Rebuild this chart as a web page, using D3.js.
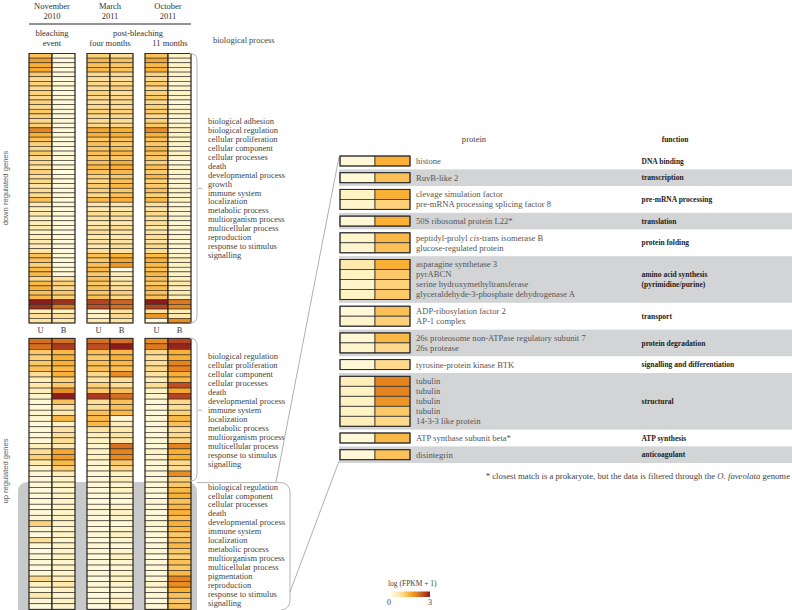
<!DOCTYPE html>
<html>
<head>
<meta charset="utf-8">
<script src="https://cdn.jsdelivr.net/npm/d3@7"></script>
<style>
body { margin: 0; background: #fff; }
svg { display: block; }
text { font-family: "Liberation Serif", "DejaVu Serif", serif; }
</style>
</head>
<body>
<script>
// ---------------- DATA ----------------
const timepoints = ["Nov", "Mar", "Oct"];
const treatments = ["U", "B"];
const timeLabels = [["November", "2010"], ["March", "2011"], ["October", "2011"]];

// down-regulated genes (58 rows), log(FPKM+1)
const downNovU = [1.3,1.7,1.5,1.6,1.2,1.0,1.1,1.0,1.1,1.0, 1.1,1.0,1.2,1.1,1.0,1.1,2.0,1.5,1.3,1.1, 1.0,1.2,0.9,1.0,0.8,1.1,0.9,1.0,0.8,0.9, 1.0,1.3,0.7,0.6,0.7,0.5,0.6,0.7,0.5,0.6, 0.7,0.6,0.8,1.3,1.3,1.1,1.4,1.4,1.0,1.4, 1.5,1.3,1.4,3.0,2.8,0.6,0.9,0.8];
const downNovB = [0.3,0.2,0.3,0.2,0.3,0.2,0.3,0.3,0.2,0.3, 0.2,0.3,0.2,0.3,0.3,0.2,0.3,0.3,0.2,0.3, 0.2,0.3,0.3,0.2,0.3,0.2,0.3,0.2,0.3,0.2, 0.3,0.2,0.3,0.2,0.3,0.2,0.3,0.2,0.2,0.3, 0.2,0.3,0.2,0.3,0.3,0.2,0.3,0.3,0.8,1.1, 1.0,1.2,1.1,2.8,2.1,0.5,0.9,0.7];
const downMarU = [1.1,1.4,1.3,1.4,1.0,0.9,1.0,0.9,1.1,1.0, 0.9,1.0,1.1,1.0,0.9,1.0,1.6,1.5,1.2,1.3, 1.2,1.3,1.2,1.3,1.4,1.3,1.1,1.0,1.2,1.1, 1.0,1.4,0.8,0.7,0.9,0.8,0.7,0.8,0.9,0.7, 0.8,0.7,0.9,1.3,1.2,1.3,1.4,1.2,1.3,1.2, 1.3,1.2,1.3,2.6,2.5,0.3,0.5,0.7];
const downMarB = [0.9,1.3,1.2,1.3,1.0,0.9,1.0,1.1,0.9,1.0, 1.0,0.9,1.1,1.0,0.9,1.0,1.5,1.5,1.3,1.2, 1.3,1.4,1.2,1.5,1.5,1.4,1.2,1.3,1.4,1.2, 1.3,1.5,0.8,0.7,0.9,0.8,0.7,0.9,0.8,0.7, 0.8,0.9,0.8,1.5,1.6,1.8,0.1,0.6,0.7,0.8, 0.9,1.1,1.0,2.3,2.2,0.8,1.0,0.8];
const downOctU = [1.3,1.6,1.4,1.5,1.1,1.0,1.2,1.0,1.1,1.2, 1.0,1.1,1.2,1.0,1.1,1.2,1.9,1.5,1.3,1.2, 1.4,1.3,1.2,1.1,1.3,1.2,1.4,1.1,1.2,1.3, 1.1,1.4,0.9,0.8,1.0,0.8,0.9,0.7,0.8,0.9, 0.8,1.0,0.9,1.4,1.5,1.4,1.3,1.4,1.3,1.2, 1.4,1.3,1.3,3.0,2.6,0.8,1.8,0.3];
const downOctB = [0.5,0.4,0.5,0.4,0.5,0.4,0.3,0.4,0.5,0.4, 0.3,0.4,0.5,0.4,0.3,0.4,0.6,0.5,0.4,0.5, 0.4,0.5,0.4,0.3,0.4,0.5,0.4,0.3,0.4,0.5, 0.4,0.5,0.3,0.4,0.3,0.4,0.3,0.4,0.3,0.4, 0.3,0.4,0.3,0.5,0.6,0.5,0.4,0.5,0.6,0.7, 0.6,0.7,0.6,2.1,2.0,0.6,0.7,1.9];

// up-regulated genes (49 rows; rows 26.. are the highlighted group)
const upNovU = [2.2,2.2,1.2,1.1,1.2,1.3,0.9,0.6,0.7,0.6,0.4,0.3,0.3,0.4,0.4,0.2,0.3,0.3,0.3,0.6,0.9,1.1,0.7,0.4,0.3,0.3, 0.3,0.2,0.3,0.3,0.2,0.3,0.3,1.1,0.3,0.2,0.9,0.3,0.2,0.3,0.3,0.2,0.3,1.0,0.5,0.3,0.7,0.3,0.2];
const upNovB = [2.2,2.7,1.4,1.5,1.5,1.4,1.5,1.1,1.2,1.9,3.0,1.3,0.8,0.7,1.4,0.5,0.8,0.9,0.9,0.7,1.6,1.7,1.4,1.1,0.6,0.5, 0.5,0.4,0.5,0.4,0.5,0.4,0.5,0.5,0.4,0.5,0.4,0.5,0.4,0.5,0.4,0.5,0.4,0.6,0.7,0.5,0.4,0.5,0.4];
const upMarU = [2.2,2.5,1.3,1.2,1.3,1.3,1.0,0.8,1.1,1.2,2.7,0.9,0.9,1.3,1.4,1.4,0.8,0.6,0.5,0.4,0.5,0.5,0.4,0.3,0.3,0.3, 0.3,0.2,0.3,0.2,0.3,0.3,0.2,0.3,0.2,0.3,0.2,0.3,0.3,0.2,0.3,0.2,0.3,0.2,0.3,0.3,0.2,0.3,0.2];
const upMarB = [2.2,3.0,1.4,1.5,1.4,1.3,1.9,0.9,0.9,1.3,2.2,1.3,1.3,1.4,0.3,0.6,0.7,0.8,0.7,2.2,2.0,1.9,1.2,1.0,0.5,0.6, 0.4,0.5,0.4,0.3,0.4,0.5,0.4,0.3,0.4,0.5,0.4,0.3,0.4,0.5,0.4,0.3,0.4,0.5,0.4,0.3,0.4,0.5,0.4];
const upOctU = [1.9,2.1,1.0,0.9,0.9,1.0,0.8,0.6,0.9,0.5,0.4,0.3,0.3,0.3,0.3,0.3,0.3,0.3,0.3,0.3,0.5,0.4,0.3,0.3,0.3,0.3, 0.3,0.3,0.2,0.3,0.3,0.2,0.3,0.4,0.3,0.3,0.2,0.3,0.3,0.2,0.3,0.3,0.2,0.3,0.4,0.3,0.3,0.2,0.3];
const upOctB = [2.6,2.9,1.5,1.5,2.0,2.0,1.5,1.4,2.5,1.6,2.6,1.0,0.9,1.1,1.4,1.3,0.9,1.0,1.0,2.0,1.5,1.5,1.0,0.9,1.9,1.1, 1.2,1.4,1.5,1.3,1.4,1.5,1.3,1.5,1.4,1.2,1.3,1.4,1.2,1.1,1.3,1.2,1.4,2.0,1.9,1.5,1.3,1.2,1.3];
const upGroupSplit = 26;

const downProcesses = ["biological adhesion","biological regulation","cellular proliferation","cellular component","cellular processes","death","developmental process","growth","immune system","localization","metabolic process","multiorganism process","multicellular process","reproduction","response to stimulus","signalling"];
const upProcesses1 = ["biological regulation","cellular proliferation","cellular component","cellular processes","death","developmental process","immune system","localization","metabolic process","multiorganism process","multicellular process","response to stimulus","signalling"];
const upProcesses2 = ["biological regulation","cellular component","cellular processes","death","developmental process","immune system","localization","metabolic process","multiorganism process","multicellular process","pigmentation","reproduction","response to stimulus","signalling"];

// protein table
const proteinNames = ["histone","RuvB-like 2","clevage simulation factor","pre-mRNA processing splicing factor 8","50S ribosomal protein L22*","peptidyl-prolyl |cis|-trans isomerase B","glucose-regulated protein","asparagine synthetase 3","pyrABCN","serine hydroxymethyltransferase","glyceraldehyde-3-phosphate dehydrogenase A","ADP-ribosylation factor 2","AP-1 complex","26s proteosome non-ATPase regulatory subunit 7","26s protease","tyrosine-protein kinase BTK","tubulin","tubulin","tubulin","tubulin","14-3-3 like protein","ATP synthase subunit beta*","disintegrin"];
const proteinGroup = [0,1,2,2,3,4,4,5,5,5,5,6,6,7,7,8,9,9,9,9,9,10,11];
const proteinU = [0.3,0.3,0.5,0.4,0.3,0.4,0.4,0.7,0.5,0.4,0.5,0.3,0.4,0.3,0.4,0.3,0.6,0.5,0.5,0.5,0.6,0.3,0.3];
const proteinB = [1.5,1.3,1.5,1.1,1.5,1.4,1.3,1.5,1.2,1.1,1.2,1.3,1.1,1.4,1.0,1.0,2.0,2.0,1.8,1.2,1.0,1.4,1.3];
const functionNames = [["DNA binding"],["transcription"],["pre-mRNA processing"],["translation"],["protein folding"],["amino acid synthesis","(pyrimidine/purine)"],["transport"],["protein degradation"],["signalling and differentiation"],["structural"],["ATP synthesis"],["anticoagulant"]];

const colorStops = [0, 0.5, 1, 1.5, 2, 2.5, 3];
const colorRange = ["#fffef0", "#fff3c4", "#fed98b", "#f9b035", "#e5841f", "#bf4f22", "#8c1b1b"];

// ---------------- CHART ----------------
const svg = d3.select("body").append("svg").attr("width", 792).attr("height", 610);
const color = d3.scaleLinear().domain(colorStops).range(colorRange).interpolate(d3.interpolateRgb).clamp(true);

const groupX = d3.scaleBand().domain(timepoints).range([29, 191]).paddingInner(0.207);
const subX = d3.scaleBand().domain(treatments).range([0, groupX.bandwidth()]);
const downY = d3.scaleBand().domain(d3.range(downNovU.length)).range([53.5, 323]);
const upY = d3.scaleBand().domain(d3.range(upNovU.length)).range([338.3, 609.3]);

const downCols = {Nov: {U: downNovU, B: downNovB}, Mar: {U: downMarU, B: downMarB}, Oct: {U: downOctU, B: downOctB}};
const upCols = {Nov: {U: upNovU, B: upNovB}, Mar: {U: upMarU, B: upMarB}, Oct: {U: upOctU, B: upOctB}};

// highlighted gray region behind the lower up-regulated group
const grayTop = upY(upGroupSplit);
svg.append("rect").attr("x", 18).attr("y", grayTop).attr("width", 179).attr("height", 150)
  .attr("rx", 9).attr("fill", "#c8c9cb");

function drawSection(cols, yScale) {
  timepoints.forEach(t => {
    treatments.forEach(s => {
      const vals = cols[t][s];
      const x0 = groupX(t) + subX(s);
      const g = svg.append("g");
      g.selectAll("rect").data(vals).join("rect")
        .attr("x", x0).attr("y", (d, i) => yScale(i))
        .attr("width", subX.bandwidth()).attr("height", yScale.bandwidth())
        .attr("fill", d => color(d)).attr("stroke", "#2e2a22").attr("stroke-width", 0.6);
      g.append("rect").attr("x", x0).attr("y", yScale.range()[0])
        .attr("width", subX.bandwidth()).attr("height", yScale.range()[1] - yScale.range()[0])
        .attr("fill", "none").attr("stroke", "#2a2620").attr("stroke-width", 0.9);
    });
  });
}
drawSection(downCols, downY);
drawSection(upCols, upY);

// headers
const hdr = svg.append("g").attr("fill", "#333").attr("font-size", 8.5).attr("text-anchor", "middle");
timepoints.forEach((t, i) => {
  const cx = groupX(t) + groupX.bandwidth() / 2;
  hdr.append("text").attr("x", cx).attr("y", 8.5).text(timeLabels[i][0]);
  hdr.append("text").attr("x", cx).attr("y", 18.5).text(timeLabels[i][1]);
});
svg.append("line").attr("x1", 29).attr("x2", 191).attr("y1", 24).attr("y2", 24)
  .attr("stroke", "#6e6e6e").attr("stroke-width", 1.4);
const nx = groupX("Nov") + groupX.bandwidth() / 2;
const mx = groupX("Mar") + groupX.bandwidth() / 2;
const ox = groupX("Oct") + groupX.bandwidth() / 2;
hdr.append("text").attr("x", nx).attr("y", 36).text("bleaching");
hdr.append("text").attr("x", nx).attr("y", 46).text("event");
hdr.append("text").attr("x", (mx + ox) / 2 - 1).attr("y", 36).text("post-bleaching");
hdr.append("text").attr("x", mx).attr("y", 46).text("four months");
hdr.append("text").attr("x", ox + 2).attr("y", 46).text("11 months");
svg.append("text").attr("x", 213).attr("y", 43).attr("font-size", 8.5).attr("fill", "#444").text("biological process");

// U / B labels
timepoints.forEach(t => treatments.forEach(s => {
  svg.append("text").attr("x", groupX(t) + subX(s) + subX.bandwidth() / 2).attr("y", 333)
    .attr("text-anchor", "middle").attr("font-size", 8.5).attr("fill", "#333").text(s);
}));

// vertical side labels
svg.append("text").attr("transform", "translate(8,188) rotate(-90)").attr("text-anchor", "middle")
  .style("font-family", "'Liberation Sans', Arial, sans-serif").attr("font-size", 7.6).attr("fill", "#666").text("down regulated genes");
svg.append("text").attr("transform", "translate(8,471) rotate(-90)").attr("text-anchor", "middle")
  .style("font-family", "'Liberation Sans', Arial, sans-serif").attr("font-size", 7.6).attr("fill", "#666").text("up regulated genes");

// brackets
const brk = "#b3b3b3";
function bracket(y0, y1, tickY) {
  svg.append("path").attr("d", `M190,${y0} Q197,${y0} 197,${y0 + 7} V${y1 - 7} Q197,${y1} 190,${y1}`)
    .attr("fill", "none").attr("stroke", brk).attr("stroke-width", 1);
  svg.append("line").attr("x1", 198).attr("x2", 202).attr("y1", tickY).attr("y2", tickY)
    .attr("stroke", brk).attr("stroke-width", 1);
}
const downMid = (downY.range()[0] + downY.range()[1]) / 2;
const up1Mid = (upY.range()[0] + grayTop) / 2;
bracket(downY.range()[0], downY.range()[1], downMid);
bracket(upY.range()[0], grayTop - 1, up1Mid);

// rounded label box for highlighted group
svg.append("path").attr("d", `M197,${grayTop + 0.5} H281 A9,9 0 0 1 290,${grayTop + 9.5} V601 A9,9 0 0 1 281,610`)
  .attr("fill", "none").attr("stroke", brk).attr("stroke-width", 1);

// process labels
function processLabels(list, centerY) {
  const sp = 8.95;
  const y0 = centerY - (list.length - 1) / 2 * sp;
  svg.append("g").attr("font-size", 8.45).attr("fill", "#444")
    .selectAll("text").data(list).join("text")
    .attr("x", 208).attr("y", (d, i) => y0 + i * sp).attr("dy", "0.33em").text(d => d);
}
processLabels(downProcesses, downMid);
processLabels(upProcesses1, up1Mid);
processLabels(upProcesses2, grayTop + 4.7 + (upProcesses2.length - 1) / 2 * 8.95);

// protein table layout
const rowH = 10, gapH = 6.7, tableTop = 156;
const rowY = proteinNames.map((d, i) => tableTop + i * rowH + proteinGroup[i] * gapH);
const protX = d3.scaleBand().domain(treatments).range([340, 410]);
const groups = d3.range(functionNames.length).map(g => {
  const idx = proteinGroup.map((v, i) => v === g ? i : -1).filter(i => i >= 0);
  return {g, top: rowY[idx[0]], bottom: rowY[idx[idx.length - 1]] + rowH};
});

// gray bands
svg.append("g").selectAll("rect").data(groups.filter(d => d.g % 2 === 1)).join("rect")
  .attr("x", 339).attr("y", d => d.top - 3.3).attr("width", 453).attr("height", d => d.bottom - d.top + 6.6)
  .attr("fill", "#d3d4d6");

// connector lines
svg.append("line").attr("x1", 276).attr("y1", grayTop).attr("x2", 339).attr("y2", groups[0].top + 1)
  .attr("stroke", "#9a9a9a").attr("stroke-width", 0.8);
svg.append("line").attr("x1", 290).attr("y1", 592).attr("x2", 339).attr("y2", groups[groups.length - 1].bottom + 1.5)
  .attr("stroke", "#9a9a9a").attr("stroke-width", 0.8);

// protein cells
treatments.forEach(s => {
  const vals = s === "U" ? proteinU : proteinB;
  svg.append("g").selectAll("rect").data(vals).join("rect")
    .attr("x", protX(s)).attr("y", (d, i) => rowY[i])
    .attr("width", protX.bandwidth()).attr("height", rowH)
    .attr("fill", d => color(d)).attr("stroke", "#333").attr("stroke-width", 0.8);
});
groups.forEach(d => {
  svg.append("rect").attr("x", 340).attr("y", d.top).attr("width", 70).attr("height", d.bottom - d.top)
    .attr("fill", "none").attr("stroke", "#2a2a2a").attr("stroke-width", 1);
});

// protein names
const pl = svg.append("g").attr("font-size", 8.6).attr("fill", "#555");
proteinNames.forEach((name, i) => {
  const t = pl.append("text").attr("x", 416).attr("y", rowY[i] + rowH / 2).attr("dy", "0.34em");
  name.split("|").forEach((part, k) => {
    t.append("tspan").attr("font-style", k % 2 === 1 ? "italic" : "normal").text(part);
  });
});

// function labels
const fl = svg.append("g").attr("font-size", 7.5).attr("font-weight", "bold").attr("fill", "#222");
groups.forEach(d => {
  const lines = functionNames[d.g];
  const cy = (d.top + d.bottom) / 2;
  lines.forEach((ln, k) => {
    fl.append("text").attr("x", 641.5).attr("y", cy + (k - (lines.length - 1) / 2) * 9.5).attr("dy", "0.35em").text(ln);
  });
});

// table headers
svg.append("text").attr("x", 474).attr("y", 142).attr("text-anchor", "middle").attr("font-size", 8.6).attr("fill", "#444").text("protein");
svg.append("text").attr("x", 675).attr("y", 142).attr("text-anchor", "middle").attr("font-size", 7.5).attr("font-weight", "bold").attr("fill", "#222").text("function");

// footnote
const fn = svg.append("text").attr("x", 790).attr("y", 479).attr("text-anchor", "end").attr("font-size", 8.7).attr("fill", "#444");
fn.append("tspan").text("* closest match is a prokaryote, but the data is filtered through the ");
fn.append("tspan").attr("font-style", "italic").text("O. faveolata");
fn.append("tspan").text(" genome");

// legend
const defs = svg.append("defs");
const grad = defs.append("linearGradient").attr("id", "lg");
colorStops.forEach(v => grad.append("stop").attr("offset", (v / 3 * 100) + "%").attr("stop-color", color(v)));
const legX = d3.scaleLinear().domain([0, 3]).range([389, 430]);
svg.append("text").attr("x", 388).attr("y", 586).attr("font-size", 7.5).attr("fill", "#444").text("log (FPKM + 1)");
svg.append("rect").attr("x", legX(0)).attr("y", 591.5).attr("width", legX(3) - legX(0)).attr("height", 5.5).attr("fill", "url(#lg)");
[0, 3].forEach(v => svg.append("text").attr("x", legX(v)).attr("y", 605).attr("text-anchor", "middle")
  .attr("font-size", 8).attr("fill", "#444").text(v));
</script>
</body>
</html>
